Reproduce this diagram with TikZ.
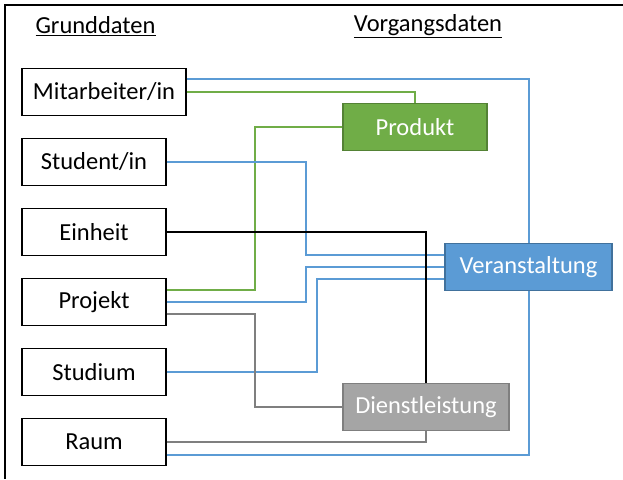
\documentclass[tikz,border=0pt]{standalone}
\usepackage{fontspec}
\setmainfont{Carlito}
\definecolor{prodgreen}{HTML}{70AD47}
\definecolor{prodedge}{HTML}{548235}
\definecolor{vstblue}{HTML}{5B9BD5}
\definecolor{vstedge}{HTML}{41719C}
\definecolor{dlgray}{HTML}{A5A5A5}
\definecolor{dledge}{HTML}{7F7F7F}
\begin{document}
\begin{tikzpicture}[x=1pt, y=-1pt,
        base/.style={rectangle, draw, line width=1.4pt, minimum height=47pt, inner sep=0pt, font=\fontsize{24.5}{29}\selectfont},
        master/.style={base, fill=white, draw=black, minimum width=144pt},
        prodbox/.style={base, fill=prodgreen, draw=prodedge, text=white, minimum width=144pt},
        vstbox/.style={base, fill=vstblue, draw=vstedge, text=white, minimum width=167pt},
        dlbox/.style={base, fill=dlgray, draw=dledge, text=white, minimum width=166pt},
        heading/.style={font=\fontsize{24.5}{29}\selectfont, inner sep=0pt},
        greenline/.style={draw=prodgreen, line width=2pt},
        blueline/.style={draw=vstblue, line width=2pt},
        blackline/.style={draw=black, line width=2pt},
        grayline/.style={draw=dledge, line width=1.2pt}
    ]
        \useasboundingbox (0,0) rectangle (623,479);

        % frame (top and left edge)
        \draw[line width=2pt] (623,5) -- (5,5) -- (5,479);

        % Headings
        \node[heading] (gd) at (95.5,26) {\underline{Grunddaten}};
        \node[heading] (vd) at (428,26) {\underline{Vorgangsdaten}};

        % Master data (left column)
        \node[master, minimum width=164pt] (ma) at (104,92) {Mitarbeiter/in};
        \node[master] (stud) at (94,162) {Student/in};
        \node[master] (einh) at (94,232) {Einheit};
        \node[master] (proj) at (94,302) {Projekt};
        \node[master] (studium) at (94,372) {Studium};
        \node[master] (raum) at (94,442) {Raum};

        % Transaction data
        \node[prodbox] (prod) at (415,127) {Produkt};
        \node[vstbox] (vst) at (528.5,267) {Veranstaltung};
        \node[dlbox] (dl) at (426,407) {Dienstleistung};

        % Mitarbeiter/in
        \draw[blueline] ([yshift=13pt]ma.east) -| (vst.north);
        \draw[greenline] (ma.east) -| (prod.north);

        % Produkt to Projekt
        \draw[greenline] (prod.west) -| (255,290) -- ([yshift=12pt]proj.east);

        % Student/in, Projekt, Studium to Veranstaltung
        \draw[blueline] (stud.east) -| (306,255) -- ([yshift=12pt]vst.west);
        \draw[blueline] (proj.east) -| (306,267) -- (vst.west);
        \draw[blueline] (studium.east) -| (317,279) -- ([yshift=-12pt]vst.west);

        % Einheit, Projekt, Raum to Dienstleistung
        \draw[blackline] (einh.east) -| (dl.north);
        \draw[grayline] ([yshift=-12pt]proj.east) -| (255,407) -- (dl.west);
        \draw[grayline] (raum.east) -| (dl.south);

        % Raum to Veranstaltung
        \draw[blueline] ([yshift=-13pt]raum.east) -| (vst.south);
    \end{tikzpicture}
\end{document}
